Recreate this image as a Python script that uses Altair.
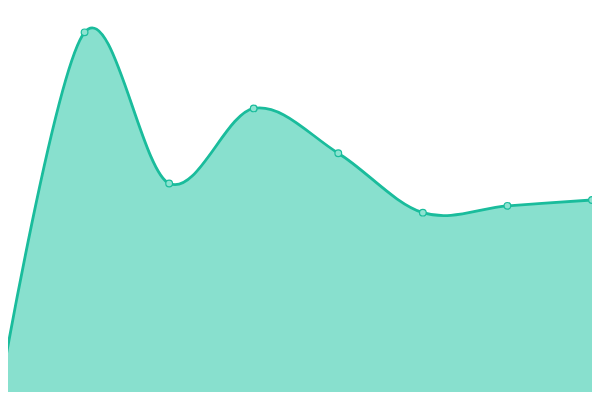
import altair as alt
import pandas as pd

idx = [0, 1, 2, 3, 4, 5, 6, 7]
values = [2, 369, 214, 291, 245, 184, 191, 197]

df = pd.DataFrame({"i": idx, "v": values})

x = alt.X("i:Q", scale=alt.Scale(domain=[0.0946, 7], nice=False, zero=False), axis=None)
y = alt.Y("v:Q", scale=alt.Scale(domain=[0, 394], nice=False), axis=None)

interp = "cardinal"

area = alt.Chart(df).mark_area(
    interpolate=interp, color="#88e0ce", opacity=1, clip=True
).encode(x=x, y=y)

line = alt.Chart(df).mark_line(
    interpolate=interp, color="#1abc9c", strokeWidth=2.8, clip=True
).encode(x=x, y=y)

pts = alt.Chart(df).mark_point(
    filled=True, fill="#8de3d1", stroke="#1abc9c", strokeWidth=1.2, size=45, opacity=1
).encode(x=x, y=y)

chart = (area + line + pts).properties(
    width=584, height=384, padding=0, autosize=alt.AutoSizeParams(type="none")
).configure_view(stroke=None)

chart.save("out.html", embed_options={"renderer": "svg", "actions": False})
